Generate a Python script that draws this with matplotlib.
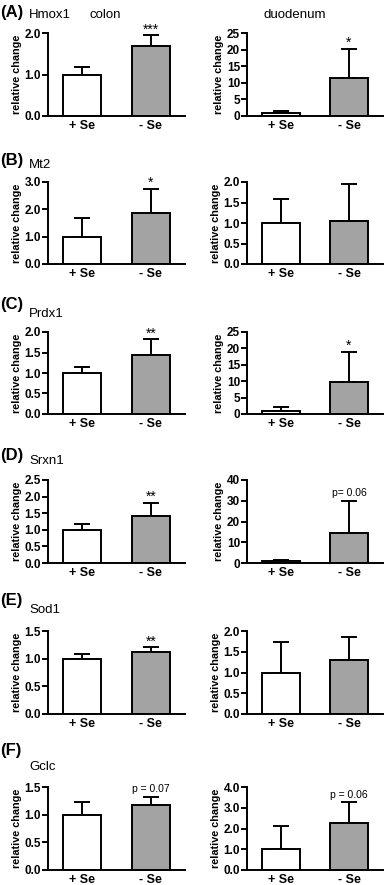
import matplotlib.pyplot as plt
import numpy as np

plt.rcParams['font.family'] = ['Liberation Sans', 'DejaVu Sans']

groups = ['+ Se', '- Se']
panels = ['(A)', '(B)', '(C)', '(D)', '(E)', '(F)']
genes = ['Hmox1', 'Mt2', 'Prdx1', 'Srxn1', 'Sod1', 'Gclc']

# colon: mittelwerte und fehler (+Se, -Se)
colon_mean = [[1.0, 1.68], [1.0, 1.88], [1.0, 1.45], [1.0, 1.43], [1.0, 1.12], [1.0, 1.17]]
colon_err = [[0.17, 0.27], [0.70, 0.88], [0.14, 0.38], [0.17, 0.39], [0.08, 0.09], [0.22, 0.15]]
colon_sig = ['***', '*', '**', '**', '**', 'p = 0.07']
colon_ymax = [2.0, 3.0, 2.0, 2.5, 1.5, 1.5]
colon_step = [1.0, 1.0, 0.5, 0.5, 0.5, 0.5]

# duodenum
duo_mean = [[1.0, 11.5], [1.0, 1.06], [1.0, 9.8], [1.0, 14.5], [1.0, 1.31], [1.0, 2.26]]
duo_err = [[0.5, 8.8], [0.58, 0.89], [1.2, 9.2], [0.3, 15.5], [0.73, 0.54], [1.1, 1.0]]
duo_sig = ['*', '', '*', 'p= 0.06', '', 'p = 0.06']
duo_ymax = [25, 2.0, 25, 40, 2.0, 4.0]
duo_step = [5, 0.5, 5, 10, 0.5, 1.0]

W, H = 387, 885
fig = plt.figure(figsize=(W / 100, H / 100), dpi=100)

rows_px = [(33, 116), (182, 264), (332, 414), (480, 563), (631, 714), (787, 870)]
label_y = [12, 160, 305, 455, 600, 750]
gene_y = [15, 165, 314, 461, 610, 767]


def panel(ax, mean, err, sig, ymax, step):
  x = np.arange(2)
  ax.bar(x, mean, width=0.56, color=['white', '#a3a3a3'], edgecolor='black', linewidth=1.4, zorder=2)
  ax.errorbar(x, mean, yerr=[[0, 0], err], fmt='none', ecolor='black', elinewidth=1.4,
              capsize=6, capthick=1.4, zorder=1)
  ax.set_xlim(-0.5, 1.5)
  ax.set_ylim(0, ymax)
  ticks = np.arange(0, ymax + step / 2, step)
  ax.set_yticks(ticks)
  if step < 1 or ymax <= 4:
    ax.set_yticklabels(['%.1f' % t for t in ticks])
  else:
    ax.set_yticklabels(['%d' % t for t in ticks])
  ax.set_xticks(x)
  ax.set_xticklabels(groups, fontsize=9, fontweight='bold')
  for s in ['top', 'right']:
    ax.spines[s].set_visible(False)
  for s in ['left', 'bottom']:
    ax.spines[s].set_linewidth(1.4)
  ax.tick_params(axis='y', labelsize=8.5, width=1.4, length=4, pad=1)
  ax.tick_params(axis='x', length=0, pad=3)
  for lab in ax.get_yticklabels():
    lab.set_fontweight('bold')
  ax.set_ylabel('relative change', fontsize=7.8, fontweight='bold', labelpad=2)
  if sig:
    top = mean[1] + err[1]
    star = sig.startswith('*')
    ax.annotate(sig, (1, top), xytext=(0, -1 if star else 2), textcoords='offset points',
                ha='center', va='bottom', fontsize=10 if star else 7.5)


for i in range(6):
  t, b = rows_px[i]
  y0 = 1 - b / H
  h = (b - t) / H
  ax1 = fig.add_axes([48 / W, y0, 137 / W, h])
  panel(ax1, colon_mean[i], colon_err[i], colon_sig[i], colon_ymax[i], colon_step[i])
  ax2 = fig.add_axes([247 / W, y0, 136 / W, h])
  panel(ax2, duo_mean[i], duo_err[i], duo_sig[i], duo_ymax[i], duo_step[i])
  fig.text(0 / W, 1 - label_y[i] / H, panels[i], fontsize=12, fontweight='bold', va='center')
  fig.text(29 / W, 1 - gene_y[i] / H, genes[i], fontsize=9.5, va='center')

fig.text(89 / W, 1 - 15 / H, 'colon', fontsize=9.5, va='center')
fig.text(295 / W, 1 - 15 / H, 'duodenum', fontsize=9.5, va='center', ha='center')

fig.savefig('out.png', dpi=100)
